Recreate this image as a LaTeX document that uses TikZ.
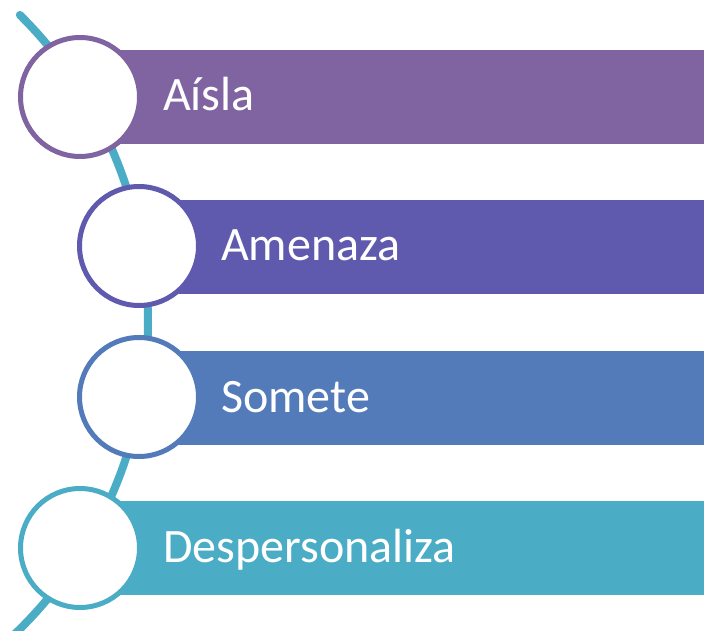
\documentclass[tikz,border=0pt]{standalone}
\usepackage{fontspec}
\setmainfont{Carlito}
\definecolor{cA}{HTML}{8064A2}
\definecolor{cB}{HTML}{5F5AAD}
\definecolor{cC}{HTML}{537BBA}
\definecolor{cD}{HTML}{4BACC6}
\begin{document}
\begin{tikzpicture}[x=1pt,y=1pt,
  bar/.style={inner sep=0pt, outer sep=0pt},
  ring/.style={circle, draw=#1, line width=5pt, fill=white, minimum size=119pt, inner sep=0pt},
  lbl/.style={anchor=base west, text=white, font=\fontsize{48}{50}\selectfont, inner sep=0pt},
  spine/.style={draw=cD, line width=8pt, line cap=round}]
\useasboundingbox (0,0) rectangle (704,630);
\clip (0,0) rectangle (704,630);
% spine arc
\draw[spine] (-284,308) ++(45.3:432) arc[start angle=45.3, end angle=-48, radius=432];
% bars
\fill[cA] (80,580) rectangle (704,486);
\fill[cB] (139,430) rectangle (704,336);
\fill[cC] (139,279) rectangle (704,185);
\fill[cD] (80,129) rectangle (704,35);
% labels
\node[lbl] (tA) at (163,519) {Aísla};
\node[lbl] (tB) at (221,369) {Amenaza};
\node[lbl] (tC) at (221,218) {Somete};
\node[lbl] (tD) at (163,68) {Despersonaliza};
% circles
\node[ring=cA] (rA) at (80,533) {};
\node[ring=cB] (rB) at (139,384) {};
\node[ring=cC] (rC) at (139,233) {};
\node[ring=cD] (rD) at (80,82) {};
\end{tikzpicture}
\end{document}
